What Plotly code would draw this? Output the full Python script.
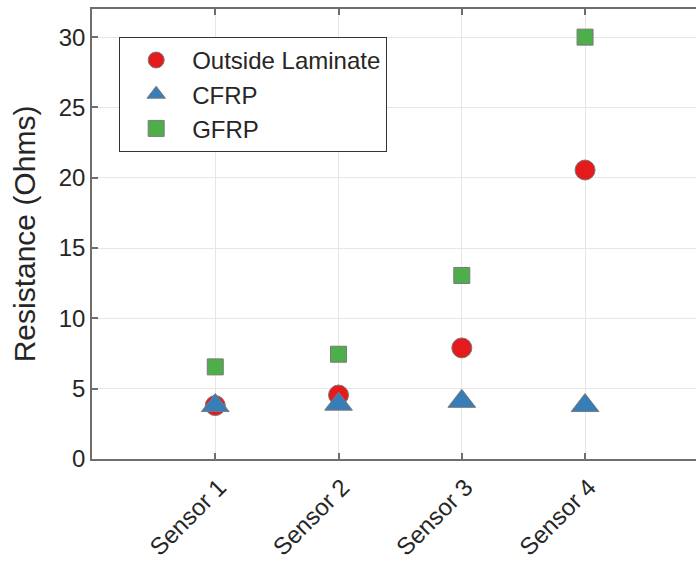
import plotly.graph_objects as go

sensors = ["Sensor 1", "Sensor 2", "Sensor 3", "Sensor 4"]
x_pos = [1, 2, 3, 4]
outside_laminate = [3.8, 4.55, 7.9, 20.55]
cfrp = [3.8, 3.9, 4.1, 3.8]
gfrp = [6.55, 7.45, 13.05, 30.0]
y_ticks = [0, 5, 10, 15, 20, 25, 30]

FONT = "Liberation Sans, Arial, sans-serif"
OUTLINE = dict(color="#7a7a7a", width=1)

fig = go.Figure()
fig.add_trace(go.Scatter(x=x_pos, y=outside_laminate, mode="markers", name="Outside Laminate",
                         marker=dict(symbol="circle", size=20, color="#e41a1c", line=OUTLINE)))
fig.add_trace(go.Scatter(x=x_pos, y=cfrp, mode="markers", name="CFRP",
                         marker=dict(symbol="triangle-up", size=24, color="#377eb8", line=OUTLINE)))
fig.add_trace(go.Scatter(x=x_pos, y=gfrp, mode="markers", name="GFRP",
                         marker=dict(symbol="square", size=16, color="#4daf4a", line=OUTLINE)))

axis_common = dict(showline=True, linecolor="#6e6e6e", linewidth=1.5,
                   showgrid=True, gridcolor="#e6e6e6", gridwidth=1,
                   ticks="inside", ticklen=6, tickcolor="#6e6e6e", tickwidth=1.5,
                   zeroline=False, automargin=False)

fig.update_layout(
    width=696, height=565,
    margin=dict(l=92, r=0, t=9, b=106),
    paper_bgcolor="white", plot_bgcolor="white",
    showlegend=True,
    legend=dict(x=0.045, y=0.938, xanchor="left", yanchor="top",
                bgcolor="white", bordercolor="#333333", borderwidth=1,
                itemwidth=62,
                font=dict(family=FONT, size=24, color="#262626")),
    xaxis=dict(range=[0, 4.9], tickmode="array", tickvals=x_pos, ticktext=sensors,
               tickangle=-45, mirror="ticks", ticklabelshift=4, ticklabelstandoff=3,
               tickfont=dict(family=FONT, size=24, color="#262626"), **axis_common),
    yaxis=dict(range=[0, 32], tickmode="array", tickvals=y_ticks,
               tickfont=dict(family=FONT, size=24, color="#262626"),
               title=dict(text="Resistance (Ohms)", font=dict(family=FONT, size=30, color="#262626"),
                          standoff=14),
               **axis_common),
)

fig.write_html("out.html")
